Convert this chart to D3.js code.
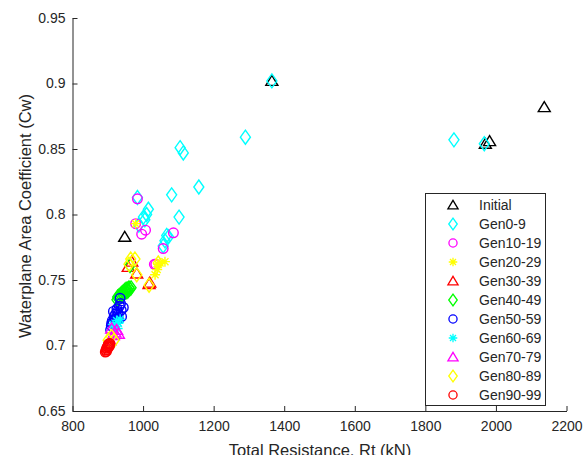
<!DOCTYPE html>
<html>
<head>
<meta charset="utf-8">
<title>Cw vs Rt</title>
<script src="https://d3js.org/d3.v7.min.js"></script>
<style>
  body { margin: 0; background: #fff; }
  text { font-family: Arial, "Liberation Sans", sans-serif; fill: #262626; }
</style>
</head>
<body>
<script>
// data: [Rt (kN), Cw]
var initial = [[1365,0.902],[2137,0.882],[1970,0.854],[1982,0.856],[948,0.783]];
var gen0_9 = [[1365,0.902],[1290,0.859],[1881,0.857],[1967,0.854],[1158,0.821],[1105,0.851],[1114,0.847],
  [1081,0.815],[1102,0.798],[1015,0.804],[1010,0.800],[1005,0.796],[1001,0.798],[988,0.792],[984,0.813],
  [1067,0.784],[1072,0.783],[1062,0.780],[1057,0.776]];
var gen10_19 = [[984,0.812],[979,0.793],[1007,0.788],[996,0.785],[1086,0.786],[1057,0.774],[1032,0.762],[1036,0.762]];
var gen20_29 = [[979,0.793],[1048,0.763],[1043,0.762],[1062,0.764],[1034,0.754],[1040,0.758]];
var gen30_39 = [[968,0.764],[958,0.760],[982,0.755],[1017,0.747],[1019,0.748]];
var gen40_49 = [[963,0.761],[926,0.735],[928,0.737],[930,0.736],[932,0.738],[934,0.737],[936,0.739],
  [938,0.738],[940,0.740],[942,0.739],[944,0.741],[946,0.740],[948,0.742],[950,0.741],[952,0.743],
  [954,0.741],[956,0.743],[958,0.742],[960,0.744],[962,0.743],[966,0.744]];
var gen50_59 = [[935,0.736],[944,0.729],[939,0.722],[916,0.726],[911,0.717],[920,0.720],[928,0.726],
  [925,0.722],[930,0.724],[915,0.717],[908,0.712],[938,0.727],[922,0.724],[918,0.722],[913,0.719],
  [933,0.730],[936,0.732],[926,0.728],[910,0.715],[930,0.720]];
var gen60_69 = [[930,0.717],[920,0.714],[915,0.716],[925,0.719],[928,0.713],[935,0.720]];
var gen70_79 = [[911,0.713],[916,0.708],[906,0.704],[920,0.710],[930,0.709],[925,0.712]];
var gen80_89 = [[901,0.704],[918,0.704],[910,0.707],[965,0.766],[977,0.766],[960,0.762],[982,0.754],
  [1017,0.746],[1043,0.763]];
var gen90_99 = [[893,0.695],[895,0.6965],[897,0.698],[899,0.699],[901,0.700],[904,0.7015],[896,0.6955],
  [900,0.6985],[902,0.701],[906,0.7015],[898,0.697],[903,0.699],[905,0.700]];

var seriesNames = ["Initial","Gen0-9","Gen10-19","Gen20-29","Gen30-39","Gen40-49","Gen50-59","Gen60-69","Gen70-79","Gen80-89","Gen90-99"];
var seriesData = [initial, gen0_9, gen10_19, gen20_29, gen30_39, gen40_49, gen50_59, gen60_69, gen70_79, gen80_89, gen90_99];
var seriesColors = ["#000000","#00ffff","#ff00ff","#ffff00","#ff0000","#00ff00","#0000ff","#00ffff","#ff00ff","#ffff00","#ff0000"];
var seriesMarkers = ["tri","dia","circ","star","tri","dia","circ","star","tri","dia","circ"];

var xTicks = [800,1000,1200,1400,1600,1800,2000,2200];
var yTicks = [0.65,0.7,0.75,0.8,0.85,0.9,0.95];
var yTickLabels = ["0.65","0.7","0.75","0.8","0.85","0.9","0.95"];

var width = 584, height = 455;
var svg = d3.select("body").append("svg")
  .attr("width", width)
  .attr("height", height);

var x = d3.scaleLinear().domain([800,2200]).range([72.5,566.5]);
var y = d3.scaleLinear().domain([0.65,0.95]).range([411,18]);

// marker path builders, s = scale
function markerPath(type, s) {
  var p = d3.path();
  if (type == "tri") {
    p.moveTo(0,-5.5*s); p.lineTo(6*s,4.5*s); p.lineTo(-6*s,4.5*s); p.closePath();
  } else if (type == "dia") {
    p.moveTo(0,-7*s); p.lineTo(5*s,0); p.lineTo(0,7*s); p.lineTo(-5*s,0); p.closePath();
  } else if (type == "circ") {
    p.arc(0,0,4.8*s,0,2*Math.PI);
  } else {
    var r = 5*s;
    for (var a = 0; a < 4; a++) {
      var ang = a*Math.PI/4;
      p.moveTo(-r*Math.cos(ang),-r*Math.sin(ang));
      p.lineTo(r*Math.cos(ang),r*Math.sin(ang));
    }
  }
  return p.toString();
}

// axes
var xAxis = d3.axisBottom(x).tickValues(xTicks).tickSizeInner(-5).tickSizeOuter(0).tickPadding(10)
  .tickFormat(d3.format("d"));
var yAxis = d3.axisLeft(y).tickValues(yTicks).tickSizeInner(-5).tickSizeOuter(0).tickPadding(7)
  .tickFormat(function(d, i) { return yTickLabels[i]; });

var gx = svg.append("g").attr("transform","translate(0,411)").call(xAxis);
var gy = svg.append("g").attr("transform","translate(72.5,0)").call(yAxis);
[gx, gy].forEach(function(g) {
  g.select(".domain").attr("stroke","#262626").attr("stroke-width",1);
  g.selectAll(".tick line").attr("stroke","#262626");
  g.selectAll(".tick text").attr("font-size",14).attr("fill","#262626")
    .attr("font-family","Arial, 'Liberation Sans', sans-serif");
});

// axis labels (bottom one is clipped by the window edge, as in the original)
svg.append("text")
  .attr("x", 320).attr("y", 456)
  .attr("text-anchor","middle")
  .attr("font-size",16.5)
  .text("Total Resistance, Rt (kN)");
svg.append("text")
  .attr("transform","translate(31,216) rotate(-90)")
  .attr("text-anchor","middle")
  .attr("font-size",16.5)
  .text("Waterplane Area Coefficient (Cw)");

// points
var plot = svg.append("g");
seriesData.forEach(function(data, i) {
  plot.append("g").selectAll("path")
    .data(data)
    .enter()
    .append("path")
    .attr("d", markerPath(seriesMarkers[i], 1))
    .attr("transform", function(d) { return "translate(" + x(d[0]) + "," + y(d[1]) + ")"; })
    .attr("fill","none")
    .attr("stroke", seriesColors[i])
    .attr("stroke-width", 1.4);
});

// legend
var lg = svg.append("g");
lg.append("rect")
  .attr("x",425.5).attr("y",193.5).attr("width",120).attr("height",212)
  .attr("fill","#fff").attr("stroke","#262626").attr("stroke-width",1);
seriesNames.forEach(function(name, i) {
  var ly = 205 + i*19;
  lg.append("path")
    .attr("d", markerPath(seriesMarkers[i], 0.85))
    .attr("transform","translate(453," + ly + ")")
    .attr("fill","none")
    .attr("stroke", seriesColors[i])
    .attr("stroke-width",1.3);
  lg.append("text")
    .attr("x",479).attr("y",ly + 5)
    .attr("font-size",14)
    .attr("fill","#000")
    .text(name);
});
</script>
</body>
</html>
